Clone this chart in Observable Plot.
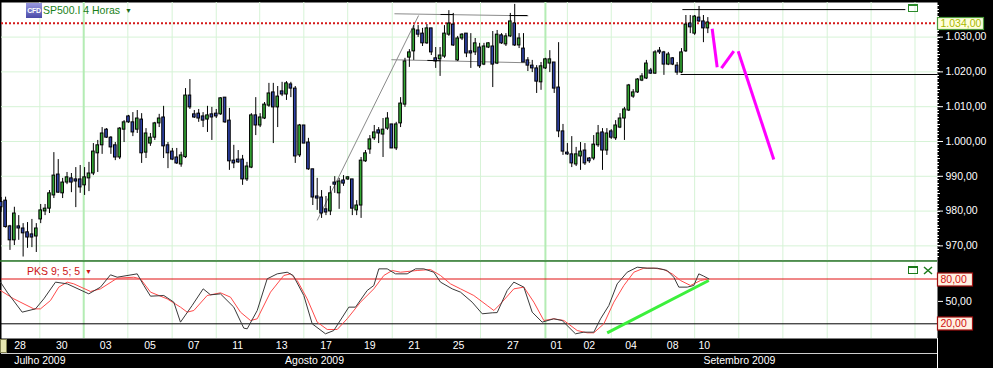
<!DOCTYPE html>
<html><head><meta charset="utf-8">
<script src="https://cdn.jsdelivr.net/npm/d3@7"></script>
<script src="https://cdn.jsdelivr.net/npm/@observablehq/plot@0.6"></script>
<style>
body{margin:0;background:#000;}
#wrap{position:relative;width:993px;height:368px;overflow:hidden;background:#000;font-family:"Liberation Sans",Arial,sans-serif;}
#wrap svg{display:block;}
.ov{position:absolute;white-space:nowrap;}
</style></head><body><div id="wrap"></div>
<script>
// ---------- DATA (4h candles, SP500.I, 28 Jul - 10 Sep 2009) ----------
const openP = [982.6,983.0,975.6,971.6,975.6,975.0,973.9,973.3,972.7,977.6,979.9,980.7,984.5,990.5,985.1,988.2,989.4,989.1,989.1,987.4,989.4,990.8,996.6,998.9,1003.4,1001.1,998.9,995.4,1003.4,1007.2,1005.5,1003.4,1006.3,996.8,999.4,1001.1,1005.2,1006.9,998.9,997.1,995.4,993.4,995.5,1013.2,1007.8,1008.0,1007.2,1006.3,1007.8,1008.0,1007.8,1012.6,1006.0,994.5,994.8,994.8,989.1,992.5,1007.5,1004.6,1006.6,1010.3,1014.1,1009.8,1014.4,1013.5,1016.4,1015.2,996.0,1004.6,999.7,992.0,984.2,983.9,980.5,979.9,988.2,985.1,988.8,989.1,989.1,980.2,981.6,994.3,997.7,1000.9,1003.2,1002.0,1003.7,1004.9,998.0,1005.2,1010.6,1024.1,1025.9,1031.9,1031.0,1028.2,1032.5,1023.9,1023.6,1024.4,1030.7,1033.6,1023.3,1029.6,1031.0,1025.9,1025.6,1027.0,1022.1,1027.0,1027.3,1022.4,1030.5,1027.9,1030.2,1033.9,1027.6,1026.7,1023.3,1021.8,1021.0,1017.0,1021.0,1022.4,1022.7,1015.5,1002.9,996.8,996.3,993.4,995.7,997.4,995.1,995.1,998.9,1002.6,997.4,1002.9,1000.9,1004.0,1006.6,1008.9,1012.9,1014.1,1017.5,1018.1,1020.4,1019.5,1026.1,1025.6,1022.1,1023.9,1021.8,1019.8,1025.9,1033.9,1031.0,1035.6,1034.5,1032.5];
const highP = [983.9,984.0,975.9,981.1,978.7,976.4,976.7,977.6,976.4,981.9,981.9,985.9,996.8,994.8,989.4,991.1,990.8,992.5,993.1,992.5,994.0,999.4,1000.3,1004.0,1003.7,1001.4,999.7,1004.0,1006.0,1007.5,1008.3,1008.9,1008.0,1003.7,1002.3,1005.5,1007.8,1010.1,999.7,998.0,998.0,996.9,1015.2,1017.8,1008.9,1009.2,1008.3,1010.1,1009.8,1009.2,1012.6,1012.6,1009.5,998.9,997.4,996.0,994.0,1008.0,1012.6,1008.0,1011.2,1016.7,1016.7,1015.8,1017.0,1017.2,1017.0,1015.8,1004.9,1004.6,1000.9,992.0,989.4,985.9,984.2,987.1,989.9,989.4,990.2,989.9,989.1,983.0,995.4,997.4,1001.7,1004.6,1004.0,1006.6,1008.3,1004.9,1005.5,1012.6,1023.9,1026.4,1033.3,1033.3,1032.5,1033.6,1032.5,1027.0,1027.0,1033.3,1037.6,1036.8,1030.2,1031.0,1031.0,1031.0,1029.6,1028.2,1028.2,1028.4,1031.6,1031.9,1031.0,1031.0,1036.8,1039.4,1031.0,1031.0,1024.1,1023.3,1021.8,1022.7,1023.9,1026.1,1022.7,1028.4,1004.9,999.4,1001.4,998.3,999.7,999.4,995.4,1001.7,1004.6,1003.7,1003.7,1003.4,1006.0,1008.0,1009.8,1016.4,1014.9,1018.1,1019.5,1023.3,1021.0,1026.1,1027.0,1025.9,1025.6,1024.1,1022.7,1026.7,1036.2,1036.2,1036.2,1038.8,1036.2,1035.6];
const lowP = [979.6,975.1,968.7,970.1,971.6,966.8,969.3,969.5,968.1,976.4,978.7,979.3,983.6,985.1,983.6,987.6,985.3,981.0,985.1,984.5,985.6,990.2,991.1,996.3,1000.9,996.3,994.5,994.8,999.7,1005.2,1001.4,1002.3,993.7,995.1,998.6,1000.3,1004.0,995.1,992.2,994.5,993.4,992.6,995.1,1009.2,1006.6,1005.5,1004.0,1002.6,1000.3,1006.6,1007.5,1005.2,991.7,992.2,993.7,987.4,988.5,992.2,1001.7,1004.0,1006.3,1009.8,999.4,1004.0,1012.9,1011.8,1012.6,993.7,995.4,999.4,991.7,981.6,980.2,977.9,978.7,978.7,985.1,980.5,987.1,988.8,978.7,978.7,977.9,994.0,996.3,1000.3,999.4,995.4,1003.2,998.0,997.4,1004.0,1009.8,1021.3,1023.3,1029.9,1027.3,1027.9,1024.7,1021.0,1018.7,1023.9,1030.2,1027.3,1023.0,1029.0,1024.1,1021.0,1024.7,1021.0,1021.8,1026.7,1015.5,1022.1,1027.9,1027.3,1029.9,1027.3,1026.7,1022.7,1020.1,1019.8,1013.8,1014.7,1020.7,1019.8,1013.8,1001.1,996.0,996.0,992.5,992.8,991.7,993.1,993.7,994.5,998.3,991.7,996.0,1000.6,1000.3,1003.7,1000.3,1008.6,1012.4,1013.8,1017.2,1017.8,1019.3,1019.3,1025.0,1019.0,1021.8,1021.8,1019.0,1019.5,1025.6,1031.0,1030.5,1034.2,1028.4,1031.0];
const closeP = [981.1,975.4,971.6,979.3,975.0,973.6,972.4,972.4,975.0,980.2,980.7,985.1,990.2,985.3,988.2,989.7,988.2,988.5,986.8,989.7,990.8,997.1,998.9,1002.3,1001.1,998.3,995.4,1003.7,1005.5,1005.5,1002.6,1006.6,996.6,1002.3,1001.1,1005.2,1006.6,998.6,996.6,994.8,993.7,996.0,1013.2,1009.8,1006.9,1006.6,1006.0,1007.5,1006.9,1007.2,1012.4,1005.5,994.3,993.7,994.0,989.1,992.8,1007.5,1004.6,1006.9,1010.6,1013.8,1009.8,1012.9,1013.5,1016.7,1015.2,995.7,1004.6,999.4,992.0,983.9,983.6,979.3,979.6,985.1,987.6,988.5,987.9,989.7,980.7,981.6,994.5,996.6,1000.6,1002.6,1002.3,1003.4,1006.6,998.0,1004.9,1010.9,1023.0,1025.6,1032.2,1030.7,1028.2,1032.5,1025.6,1023.0,1024.7,1031.0,1033.9,1027.6,1029.6,1030.7,1025.3,1025.3,1028.2,1021.6,1027.3,1028.2,1022.1,1030.7,1028.2,1030.2,1034.5,1027.6,1029.6,1022.7,1021.8,1021.0,1017.2,1021.6,1023.6,1023.6,1015.2,1002.9,997.1,996.3,993.7,996.3,997.1,993.7,994.3,999.1,1002.3,997.4,1002.3,1001.1,1004.6,1006.6,1009.2,1016.1,1014.1,1017.8,1018.7,1022.4,1019.5,1025.6,1025.6,1022.1,1025.0,1022.1,1019.8,1025.6,1033.6,1032.8,1035.9,1034.5,1032.5,1034.2];

const lastPrice = 1034;
const priceTicks = [970, 980, 990, 1000, 1010, 1020, 1030];

// PKS 9;5;5 oscillator (read at vertices), x = candle index
const kIdx = [-0.16,1.36,4.78,7.81,9.71,12.37,15.04,19.96,22.62,24.9,26.43,30.99,32.5,34.02,37.05,39.33,40.85,43.5,46.02,47.69,49.96,53.0,55.27,56.05,58.33,60.6,62.89,65.16,66.53,68.95,70.86,73.89,75.78,79.2,80.73,83.39,84.9,86.04,87.95,89.84,92.5,94.4,96.29,98.57,100.09,102.76,104.65,107.3,109.6,111.87,113.0,115.29,116.8,119.08,120.98,123.26,125.9,127.8,130.85,132.75,135.03,136.56,138.45,140.35,142.63,144.91,147.18,149.46,151.74,153.25,154.39,156.3,157.8,158.94,160.08,161.22];
const kVal = [75.8,62.4,35.6,40.0,53.4,75.8,73.5,60.1,69.1,85.6,82.4,86.9,71.3,57.0,57.9,49.0,22.2,44.5,66.8,58.8,60.1,42.3,14.2,13.3,37.8,80.2,86.9,89.1,84.7,57.9,20.0,6.6,11.0,42.3,42.3,64.6,71.3,93.6,93.6,86.9,86.9,93.6,93.6,89.1,75.8,66.8,62.4,49.0,33.4,34.7,35.0,64.6,75.8,69.1,35.6,22.2,26.7,24.4,6.6,8.8,8.8,26.7,44.5,73.5,89.1,95.8,94.5,94.5,91.4,82.4,69.1,69.1,71.3,86.9,83.8,80.2];
const dIdx = [-0.16,2.88,7.43,8.95,11.23,13.12,15.04,16.54,20.35,22.62,26.43,30.21,31.74,34.02,37.82,40.85,42.38,43.89,46.93,49.96,52.24,54.52,56.8,58.33,61.36,64.39,65.92,67.44,69.72,72.0,74.28,76.56,78.83,81.87,84.9,87.18,89.09,90.98,94.78,97.81,100.09,102.37,104.65,107.68,110.73,112.25,113.76,116.8,119.08,121.36,123.64,125.9,128.2,131.24,133.52,135.03,137.31,139.59,141.87,144.15,146.42,148.7,150.98,152.88,154.77,157.05,159.33,161.22];
const dVal = [64.6,53.4,40.0,40.0,51.2,69.1,75.8,73.5,63.3,66.8,81.1,82.4,80.2,62.4,53.4,42.3,35.6,37.8,57.9,61.5,55.7,35.6,24.4,26.7,62.4,84.7,86.9,78.0,53.4,22.2,12.4,12.4,26.7,49.0,66.8,84.7,91.4,89.1,91.4,92.7,84.7,73.5,66.8,57.9,44.5,37.8,46.7,66.8,69.1,49.0,24.4,26.7,24.4,11.0,7.9,7.9,20.0,49.0,71.3,89.1,94.5,94.5,92.7,86.9,78.0,71.3,78.0,80.2];
const levels = [80, 20];
const midLevel = [50];

// drawn annotations (candle index / price)
const grayX1 = [89.6, 88.9, 72.0], grayY1 = [1036.7, 1023.5, 977.3];
const grayX2 = [120.1, 120.6, 95.1], grayY2 = [1036.1, 1022.6, 1036.2];
const blackX1 = [155.2, 154.8, 115.8, 100.1, 97.1], blackY1 = [1037.9, 1019.25, 1036.2, 1036.5, 1023.3];
const blackX2 = [206.0, 213.33, 119.9, 103.0, 100.1], blackY2 = [1037.9, 1019.25, 1036.2, 1036.5, 1023.2];
const magX1 = [161.99, 164.1, 167.92], magY1 = [1032.39, 1021.06, 1025.95];
const magX2 = [163.13, 166.92, 176.03], magY2 = [1021.35, 1025.95, 994.83];
const greenX1 = [138.07], greenY1 = [7.95], greenX2 = [161.22], greenY2 = [78.0];

// time axis
const daySeps = [8.8,18.8,28.85,38.95,49,58.9,68.95,78.95,89.1,99.1,109.2,124,129,139,148.1,158,168.05,178.1,188.2,198.2,208.2];
const monthSeps = [18.8, 124];
const dayLabels = ["28","30","03","05","07","11","13","17","19","21","25","27","01","02","04","08","10"];
const dayLabelPos = [4.3,13.8,23.8,33.9,43.9,53.9,63.9,74,84,94.1,104.2,116.6,126.5,134,143.5,153,160.2];
const monthLabels = ["Julho 2009", "Agosto 2009", "Setembro 2009"];
const monthLabelPos = [8.8, 71.4, 168.2];

// ---------- RENDER ----------
const xDomain = [0.07, 213.33];
const fmt = d3.formatLocale({decimal: ",", thousands: ".", grouping: [3], currency: ["", ""]}).format(",.2f");
const FONT = "'Liberation Sans', Arial, sans-serif";
const gridC = "#d6f3d6", monthC = "#b4ecb4";
const upC = "#33a833", downC = "#2e42a8";
const baseStyle = {background: "#000", color: "#fff", fontSize: "10.5px", fontFamily: FONT, overflow: "visible"};

const candles = openP.map((o, i) => ({i, o, h: highP[i], l: lowP[i], c: closeP[i]}));
const seg = (x1, y1, x2, y2) => x1.map((d, i) => ({x1: d, y1: y1[i], x2: x2[i], y2: y2[i]}));

function axisBoxes(vals, o) {
  return (index, scales, values, dims) => {
    const g = d3.create("svg:g");
    const x0 = dims.width - dims.marginRight;
    for (const v of vals) {
      const y = Math.round(scales.y(v));
      g.append("rect").attr("x", x0 + 0.5).attr("y", y - o.h / 2 + 0.5).attr("width", o.w).attr("height", o.h)
        .attr("fill", o.fill).attr("stroke", o.stroke).attr("stroke-width", 1.2);
      g.append("text").attr("x", x0 + 3.5).attr("y", y + 0.5).attr("dy", "0.36em").attr("fill", o.text)
        .attr("text-anchor", "start").attr("font-size", "10.5px").attr("font-family", FONT).text(fmt(v));
    }
    return g.node();
  };
}
function minorTicks(vals, len) {
  return (index, scales, values, dims) => {
    const g = d3.create("svg:g");
    const x0 = dims.width - dims.marginRight;
    for (const v of vals) {
      const y = Math.round(scales.y(v)) + 0.5;
      g.append("line").attr("x1", x0).attr("x2", x0 + (v % 5 === 0 ? len + 1 : len)).attr("y1", y).attr("y2", y).attr("stroke", "#fff");
    }
    return g.node();
  };
}
function topEdge(color) {
  return (index, scales, values, dims) => {
    const g = d3.create("svg:g");
    g.append("line").attr("x1", 0).attr("x2", dims.width - dims.marginRight).attr("y1", 1).attr("y2", 1)
      .attr("stroke", color).attr("stroke-width", 1.6);
    return g.node();
  };
}

const main = Plot.plot({
  width: 993, height: 260, marginTop: 2, marginBottom: 0, marginLeft: 1, marginRight: 56,
  x: {domain: xDomain, axis: null},
  y: {domain: [965.8, 1039.94], axis: "right", ticks: priceTicks, tickFormat: fmt, tickSize: 5, tickPadding: 3, label: null},
  style: baseStyle,
  marks: [
    Plot.frame({fill: "#fff", stroke: "none"}),
    Plot.ruleY(priceTicks, {stroke: gridC}),
    Plot.ruleX(daySeps, {stroke: gridC}),
    Plot.ruleX(monthSeps, {stroke: monthC, strokeWidth: 2}),
    Plot.link(seg(grayX1, grayY1, grayX2, grayY2), {x1: "x1", y1: "y1", x2: "x2", y2: "y2", stroke: "#8a8a8a"}),
    Plot.ruleY([lastPrice], {stroke: "#d41a1a", strokeWidth: 2, strokeDasharray: "2,2"}),
    Plot.ruleX(candles, {x: "i", y1: "l", y2: "h", stroke: "#000", strokeWidth: 1}),
    Plot.rect(candles, {x1: d => d.i - 0.3, x2: d => d.i + 0.3, y1: "o", y2: "c",
      fill: d => d.c >= d.o ? upC : downC, stroke: "#000", strokeWidth: 1}),
    Plot.link(seg(blackX1, blackY1, blackX2, blackY2), {x1: "x1", y1: "y1", x2: "x2", y2: "y2", stroke: "#000"}),
    Plot.link(seg(magX1, magY1, magX2, magY2), {x1: "x1", y1: "y1", x2: "x2", y2: "y2", stroke: "#ff00ff", strokeWidth: 3}),
    minorTicks(d3.range(967, 1040), 2),
    axisBoxes([lastPrice], {w: 46, h: 12, fill: "#ffffdc", stroke: "#4c9a3c", text: "#a8b800"})
  ]
});

const osc = Plot.plot({
  width: 993, height: 78, marginTop: 0, marginBottom: 0, marginLeft: 1, marginRight: 56,
  x: {domain: xDomain, axis: null},
  y: {domain: [0.31, 104.78], axis: "right", ticks: midLevel, tickFormat: fmt, tickSize: 5, tickPadding: 3, label: null},
  style: baseStyle,
  marks: [
    Plot.frame({fill: "#fff", stroke: "none"}),
    Plot.ruleX(daySeps, {stroke: gridC}),
    Plot.ruleX(monthSeps, {stroke: monthC, strokeWidth: 2}),
    Plot.ruleY([levels[0]], {stroke: "#e01010"}),
    Plot.ruleY([levels[1]], {stroke: "#000"}),
    Plot.line(dIdx.map((x, i) => ({x, v: dVal[i]})), {x: "x", y: "v", stroke: "#ff4a4a", strokeWidth: 1}),
    Plot.line(kIdx.map((x, i) => ({x, v: kVal[i]})), {x: "x", y: "v", stroke: "#3a3a3a", strokeWidth: 1}),
    Plot.link(seg(greenX1, greenY1, greenX2, greenY2), {x1: "x1", y1: "y1", x2: "x2", y2: "y2", stroke: "#3cf03c", strokeWidth: 3}),
    topEdge("#2a7a2a"),
    axisBoxes(levels, {w: 35, h: 13, fill: "#fff1e2", stroke: "#a01010", text: "#d01010"})
  ]
});

const dates = Plot.plot({
  width: 993, height: 30, marginTop: 0, marginBottom: 0, marginLeft: 1, marginRight: 56,
  x: {domain: xDomain, axis: null},
  y: {type: "band", domain: ["d", "m"], padding: 0, axis: null},
  style: baseStyle,
  marks: [
    Plot.ruleY(["m"], {stroke: "#cfcfcf", dy: -7.5}),
    Plot.ruleX(daySeps, {y: () => "d", stroke: "#fff"}),
    Plot.ruleX(monthSeps, {y: () => "m", stroke: "#fff"}),
    Plot.ruleX([xDomain[1]], {stroke: "#fff"}),
    Plot.text(dayLabels, {x: (d, i) => dayLabelPos[i], y: () => "d", text: d => d, fill: "#fff"}),
    Plot.text(monthLabels, {x: (d, i) => monthLabelPos[i], y: () => "m", text: d => d, fill: "#fff"})
  ]
});

const wrap = document.getElementById("wrap");
wrap.append(main, osc, dates);

// UI chrome overlays
wrap.insertAdjacentHTML("beforeend", `
<div class="ov" style="left:26px;top:3px;width:16px;height:15px;background:linear-gradient(#9a9ae0,#4a4aa8);color:#fff;font:bold 7px ${FONT};line-height:15px;text-align:center;letter-spacing:-0.3px;">CFD</div>
<div class="ov" style="left:43px;top:4px;font:10.5px ${FONT};line-height:12px;color:#1a7f1a;">SP500.I 4 Horas</div>
<div class="ov" style="left:125px;top:7px;font:7px ${FONT};color:#1a6a1a;">▼</div>
<div class="ov" style="left:908px;top:4px;width:8px;height:5px;border:1px solid #2a8a2a;border-top-width:2px;"></div>
<div class="ov" style="left:27px;top:265px;font:10.5px ${FONT};line-height:12px;color:#cc1414;">PKS 9; 5; 5</div>
<div class="ov" style="left:85px;top:268px;font:7px ${FONT};color:#cc1414;">▼</div>
<div class="ov" style="left:908px;top:266px;width:8px;height:5px;border:1px solid #1a7a1a;border-top-width:2px;"></div>
<svg class="ov" style="left:923px;top:266px" width="10" height="9"><path d="M1,1L9,8M9,1L1,8" stroke="#1a7a1a" stroke-width="1.5"/></svg>
<div class="ov" style="left:0px;top:339px;width:5px;height:12px;background:#e6e6b0;border:1px solid #808050;"></div>
`);
</script>
</body></html>
